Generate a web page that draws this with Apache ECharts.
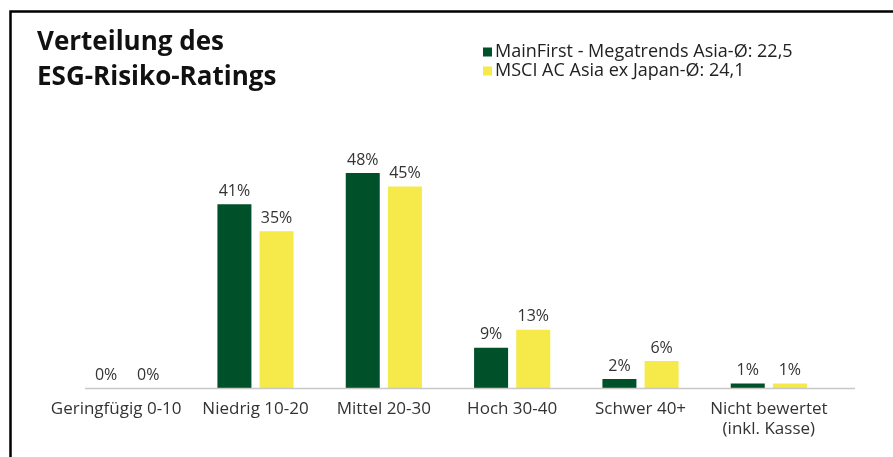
<!DOCTYPE html>
<html>
<head>
<meta charset="utf-8">
<script src="https://cdn.jsdelivr.net/npm/echarts@6/dist/echarts.min.js"></script>
<style>
  html, body { margin: 0; padding: 0; background: #fff; }
  #chart { width: 893px; height: 457px; }
</style>
</head>
<body>
<div id="chart"></div>
<script>
var categories = ["Geringfügig 0-10", "Niedrig 10-20", "Mittel 20-30", "Hoch 30-40", "Schwer 40+", "Nicht bewertet\n(inkl. Kasse)"];
var fundName = "MainFirst - Megatrends Asia-Ø: 22,5";
var benchName = "MSCI AC Asia ex Japan-Ø: 24,1";
var fundValues = [0, 41, 48, 9, 2, 1];
var benchValues = [0, 35, 45, 13, 6, 1];

var dom = echarts.init(document.getElementById("chart"));
var labelStyle = {
  show: true,
  position: "top",
  distance: 5,
  color: "#333",
  fontSize: 16,
  fontFamily: "Open Sans",
  formatter: "{c}%"
};
// first label sits a bit left of its bar pair in the original
var xData = categories.map(function (c, i) {
  return i === 0 ? { value: c, textStyle: { padding: [0, 22, 0, 0] } } : c;
});
var option = {
  animation: false,
  textStyle: { fontFamily: "Open Sans" },
  title: {
    text: "Verteilung des\nESG-Risiko-Ratings",
    left: 32,
    top: 20,
    textStyle: {
      fontSize: 26,
      fontWeight: "bold",
      color: "#111",
      lineHeight: 35,
      fontFamily: "Open Sans"
    }
  },
  legend: {
    orient: "vertical",
    left: 478,
    top: 38,
    itemWidth: 9,
    itemHeight: 9,
    itemGap: 1,
    icon: "rect",
    textStyle: { fontSize: 18, color: "#222", padding: [0, 0, 0, -2] },
    data: [fundName, benchName]
  },
  grid: {
    left: 63,
    width: 770,
    top: 164,
    height: 224
  },
  xAxis: {
    type: "category",
    data: xData,
    axisLine: { show: false },
    axisTick: { show: false },
    axisLabel: {
      color: "#333",
      fontSize: 17,
      lineHeight: 20,
      margin: 11,
      interval: 0
    }
  },
  yAxis: {
    type: "value",
    min: 0,
    max: 50,
    show: false,
    splitLine: { show: false }
  },
  series: [
    {
      name: fundName,
      type: "bar",
      barWidth: 34,
      barGap: "24%",
      data: fundValues,
      itemStyle: { color: "#005029" },
      label: labelStyle
    },
    {
      name: benchName,
      type: "bar",
      barWidth: 34,
      data: benchValues,
      itemStyle: { color: "#f6e94a" },
      label: labelStyle
    }
  ],
  graphic: [
    {
      type: "line",
      shape: { x1: 85, y1: 388.5, x2: 855, y2: 388.5 },
      style: { stroke: "#c8c8c8", lineWidth: 1.5 },
      z: 5
    },
    {
      type: "polyline",
      shape: { points: [[10.5, 470], [10.5, 11.5], [905, 11.5]] },
      style: { stroke: "#000", lineWidth: 2.5, fill: null }
    }
  ]
};
dom.setOption(option);
</script>
</body>
</html>
